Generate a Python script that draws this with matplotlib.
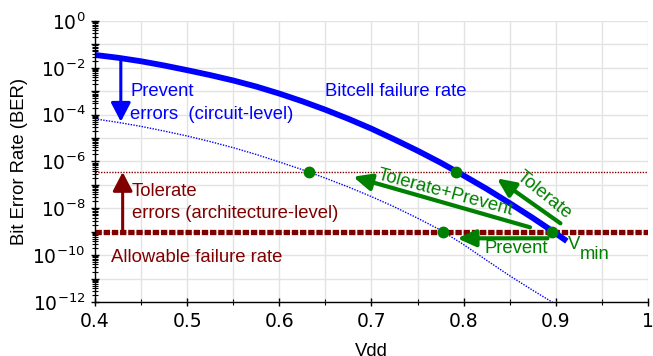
import numpy as np
import matplotlib
matplotlib.use("Agg")
import matplotlib.pyplot as plt
from matplotlib.ticker import LogLocator, FixedLocator, NullFormatter

# ---- data ----
bitcell_vdd = [0.400, 0.425, 0.450, 0.475, 0.500, 0.525, 0.550, 0.575, 0.600, 0.625, 0.650,
               0.675, 0.700, 0.725, 0.750, 0.775, 0.800, 0.825, 0.850, 0.875, 0.900, 0.912]
bitcell_log = [-1.45, -1.57, -1.72, -1.90, -2.10, -2.31, -2.54, -2.80, -3.10, -3.43, -3.79,
               -4.18, -4.60, -5.06, -5.54, -6.05, -6.60, -7.17, -7.78, -8.41, -9.07, -9.40]

prevented_vdd = [0.400, 0.425, 0.450, 0.475, 0.500, 0.525, 0.550, 0.575, 0.600, 0.625, 0.650,
                 0.675, 0.700, 0.725, 0.750, 0.775, 0.800, 0.825, 0.850, 0.875, 0.900, 0.905]
prevented_log = [-4.18, -4.33, -4.50, -4.70, -4.91, -5.15, -5.41, -5.70, -6.02, -6.35, -6.71,
                 -7.09, -7.50, -7.94, -8.42, -8.93, -9.55, -10.22, -10.88, -11.50, -12.10, -12.25]

allowable_ber = 1e-9
tolerate_ber = 10 ** -6.45

dots_vdd = [0.632, 0.792, 0.778, 0.896]
dots_ber = [10 ** -6.45, 10 ** -6.45, 1e-9, 1e-9]

xticks = [0.4, 0.5, 0.6, 0.7, 0.8, 0.9, 1.0]
xtick_labels = ["0.4", "0.5", "0.6", "0.7", "0.8", "0.9", "1"]
ytick_labels = [r"$10^{0}$", r"$10^{-2}$", r"$10^{-4}$", r"$10^{-6}$", r"$10^{-8}$", r"$10^{-10}$", r"$10^{-12}$"]

BLUE = "#0000ff"
RED = "#800000"
GREEN = "#008000"
SANS = ["Liberation Sans", "DejaVu Sans"]
FS = 13.3

fig = plt.figure(figsize=(6.53, 3.56), dpi=100)
ax = fig.add_axes([0.1455, 0.1517, 0.8468, 0.7893])

ax.set_yscale("log")
ax.set_xlim(0.4, 1.0)
ax.set_ylim(1e-12, 1e0)

ax.xaxis.set_major_locator(FixedLocator(xticks))
ax.xaxis.set_minor_locator(FixedLocator(list(np.round(np.arange(0.45, 1.0, 0.1), 2))))
ax.set_xticklabels(xtick_labels)
ax.yaxis.set_major_locator(FixedLocator([10.0 ** -k for k in range(0, 13)]))
ax.set_yticklabels([ytick_labels[k // 2] if k % 2 == 0 else "" for k in range(0, 13)])
ax.yaxis.set_minor_locator(LogLocator(base=10, subs=np.arange(2, 10), numticks=100))
ax.yaxis.set_minor_formatter(NullFormatter())
ax.grid(True, which="major", color="#e3e3e3", lw=1.0)
ax.grid(True, which="minor", axis="x", color="#e3e3e3", lw=1.0)
ax.set_axisbelow(True)

for s in ["top", "right"]:
    ax.spines[s].set_visible(False)
for s in ["left", "bottom"]:
    ax.spines[s].set_linewidth(1.0)
ax.tick_params(axis="both", which="major", direction="inout", length=6, width=1, labelsize=13.5, pad=4)
ax.tick_params(axis="both", which="minor", direction="inout", length=4, width=0.8)

# horizontal reference lines
ax.plot([0.4, 1.0], [tolerate_ber, tolerate_ber], color=RED, lw=1.0, ls=(0, (1, 1)))
ax.plot([0.4, 1.0], [allowable_ber, allowable_ber], color=RED, lw=3.8, ls=(0, (1.2, 0.35)),
        solid_capstyle="round", dash_capstyle="butt")

# curves
ax.plot(prevented_vdd, [10 ** v for v in prevented_log], color=BLUE, lw=1.0, ls=(0, (1, 1)))
ax.plot(bitcell_vdd, [10 ** v for v in bitcell_log], color=BLUE, lw=4.2, solid_capstyle="butt")

# arrows
def arrow(x0, y0, x1, y1, color, lw, hl, hw):
    ax.annotate("", xy=(x1, y1), xytext=(x0, y0),
                arrowprops=dict(arrowstyle=f"-|>,head_length={hl},head_width={hw}",
                                color=color, lw=lw, shrinkA=0, shrinkB=0))

arrow(0.428, 10 ** -1.60, 0.428, 10 ** -4.30, BLUE, 2.2, 1.15, 0.6)
arrow(0.430, 1e-9, 0.430, 10 ** -6.45, RED, 2.2, 1.15, 0.6)
arrow(0.891, 10 ** -9.28, 0.793, 10 ** -9.28, GREEN, 3.0, 1.1, 0.5)
arrow(0.905, 10 ** -8.64, 0.836, 10 ** -6.72, GREEN, 3.0, 1.1, 0.5)
arrow(0.872, 10 ** -8.81, 0.680, 10 ** -6.65, GREEN, 3.0, 1.1, 0.5)

# dots
ax.plot(dots_vdd, dots_ber, "o", color=GREEN, ms=7.5, zorder=5)

# texts
ax.text(0.438, 10 ** -3.03, "Prevent", color=BLUE, fontsize=FS, family=SANS, va="center", ha="left")
ax.text(0.438, 10 ** -4.01, "errors  (circuit-level)", color=BLUE, fontsize=FS, family=SANS, va="center", ha="left")
ax.text(0.6496, 10 ** -3.03, "Bitcell failure rate", color=BLUE, fontsize=FS, family=SANS, va="center", ha="left")
ax.text(0.440, 10 ** -7.26, "Tolerate", color=RED, fontsize=FS, family=SANS, va="center", ha="left")
ax.text(0.440, 10 ** -8.20, "errors (architecture-level)", color=RED, fontsize=FS, family=SANS, va="center", ha="left")
ax.text(0.417, 10 ** -10.08, "Allowable failure rate", color=RED, fontsize=FS, family=SANS, va="center", ha="left")
ax.text(0.857, 10 ** -9.70, "Prevent", color=GREEN, fontsize=FS, family=SANS, va="center", ha="center")
ax.text(0.887, 10 ** -7.45, "Tolerate", color=GREEN, fontsize=FS, family=SANS, va="center", ha="center",
        rotation=-39, rotation_mode="anchor")
ax.text(0.780, 10 ** -7.33, "Tolerate+Prevent", color=GREEN, fontsize=FS, family=SANS, va="center", ha="center",
        rotation=-15, rotation_mode="anchor")
ax.text(0.913, 10 ** -9.56, "V", color=GREEN, fontsize=FS, family=SANS, va="center", ha="left")
ax.text(0.926, 10 ** -9.98, "min", color=GREEN, fontsize=FS, family=SANS, va="center", ha="left")

ax.set_xlabel("Vdd", fontsize=FS, family=SANS, labelpad=9)
ax.set_ylabel("Bit Error Rate (BER)", fontsize=FS, family=SANS, labelpad=3)

fig.savefig("out.png", dpi=100)
